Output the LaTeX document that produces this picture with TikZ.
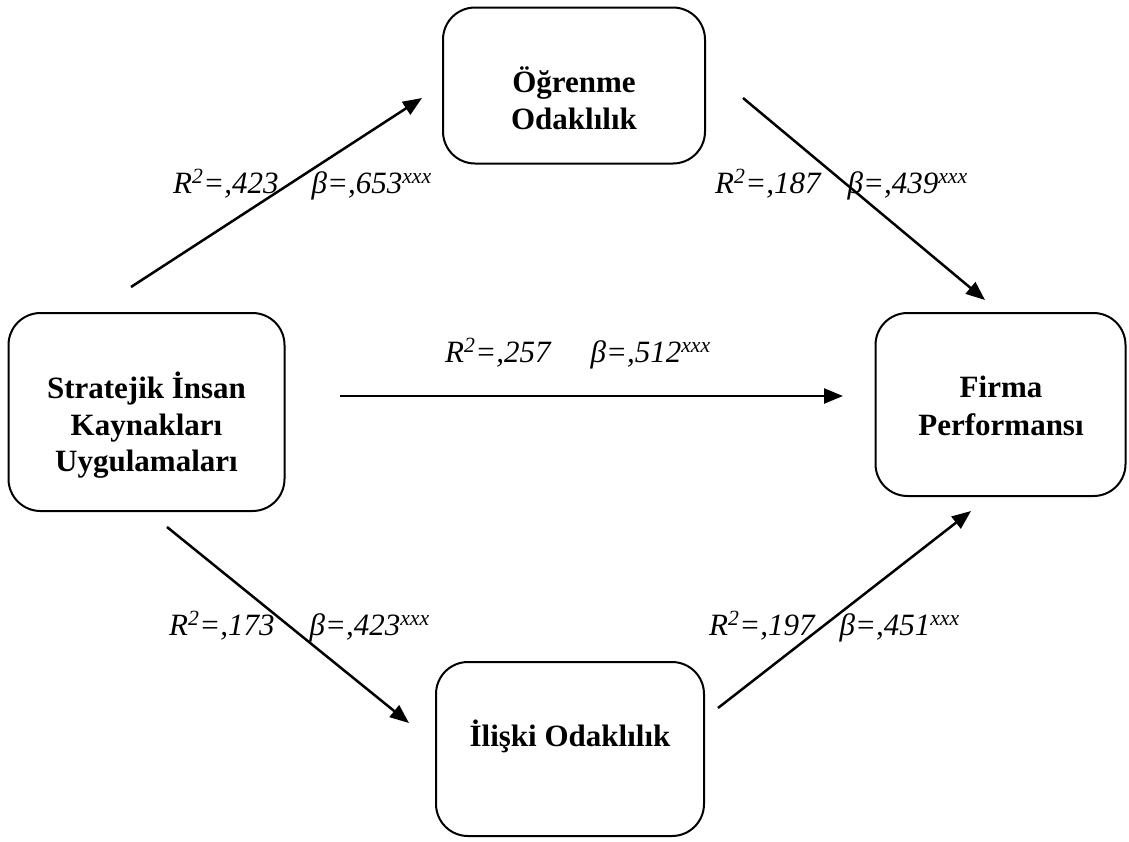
\documentclass[tikz,border=0pt]{standalone}
\usepackage{fontspec}
\setmainfont{Liberation Serif}
\usetikzlibrary{arrows.meta}
\begin{document}
\begin{tikzpicture}[x=1pt,y=-1pt,
  box/.style={draw, line width=2pt, rounded corners=32pt, inner sep=0pt},
  boxtext/.style={font=\bfseries\fontsize{31}{36}\selectfont, anchor=base, inner sep=0pt},
  lbl/.style={font=\itshape\fontsize{31}{36}\selectfont, anchor=base west, inner sep=0pt},
  arr/.style={line width=2.5pt, -{Triangle[length=19pt,width=15pt]}}]
\useasboundingbox (0,0) rectangle (1129,841);
\fill[white] (0,0) rectangle (1129,841);
% boxes
\node[box, minimum width=262pt, minimum height=156pt] (ogr) at (574,85.5) {};
\node[box, minimum width=276pt, minimum height=198pt] (sik) at (146.5,412) {};
\node[box, minimum width=250pt, minimum height=183pt] (fp) at (1000.5,404.5) {};
\node[box, minimum width=268pt, minimum height=174pt] (io) at (570,749) {};
% box texts
\node[boxtext] (ogr1) at (574,92) {Öğrenme};
\node[boxtext] (ogr2) at (574,129) {Odaklılık};
\node[boxtext] (sik1) at (146.5,398) {Stratejik İnsan};
\node[boxtext] (sik2) at (146.5,435) {Kaynakları};
\node[boxtext] (sik3) at (146.5,471) {Uygulamaları};
\node[boxtext] (fp1) at (1001,397) {Firma};
\node[boxtext] (fp2) at (1001,435) {Performansı};
\node[boxtext] (io1) at (570,746) {İlişki Odaklılık};
% arrow end points
\coordinate (a1s) at (131,287); \coordinate (a1e) at (422,98);
\coordinate (a2s) at (743,98);  \coordinate (a2e) at (985,300);
\coordinate (a3s) at (340,396); \coordinate (a3e) at (843,396);
\coordinate (a4s) at (167,527); \coordinate (a4e) at (409,723);
\coordinate (a5s) at (718,708); \coordinate (a5e) at (971,511);
\draw[arr] (a1s) -- (a1e);
\draw[arr] (a2s) -- (a2e);
\draw[arr] (a3s) -- (a3e);
\draw[arr] (a4s) -- (a4e);
\draw[arr] (a5s) -- (a5e);
% labels
\node[lbl] (l1) at (173,193) {R\textsuperscript{2}=,423\hspace{33pt}β=,653\textsuperscript{xxx}};
\node[lbl] (l2) at (715,193) {R\textsuperscript{2}=,187\hspace{27pt}β=,439\textsuperscript{xxx}};
\node[lbl] (l3) at (445,362) {R\textsuperscript{2}=,257\hspace{40pt}β=,512\textsuperscript{xxx}};
\node[lbl] (l4) at (169,635) {R\textsuperscript{2}=,173\hspace{35pt}β=,423\textsuperscript{xxx}};
\node[lbl] (l5) at (709,635) {R\textsuperscript{2}=,197\hspace{25pt}β=,451\textsuperscript{xxx}};
\end{tikzpicture}
\end{document}
